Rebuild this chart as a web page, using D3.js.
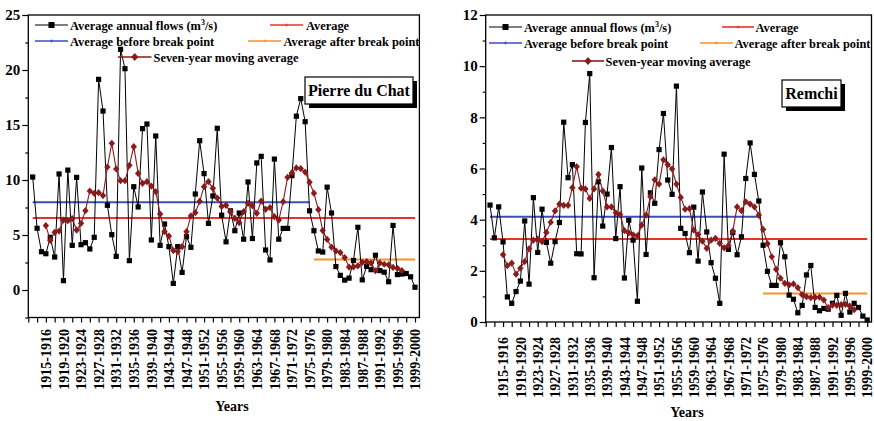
<!DOCTYPE html>
<html>
<head>
<meta charset="utf-8">
<script src="https://cdn.jsdelivr.net/npm/d3@7"></script>
<style>
  body { margin: 0; background: #fff; }
  svg text { font-family: "Liberation Serif", "Times New Roman", serif; font-weight: bold; fill: #000; }
</style>
</head>
<body>
<svg id="chart" width="874" height="421"></svg>
<script>
// Hydrological years 1912-1913 ... 1999-2000
const firstYear = 1912;
const tickLabels = ["1915-1916", "1919-1920", "1923-1924", "1927-1928", "1931-1932", "1935-1936",
  "1939-1940", "1943-1944", "1947-1948", "1951-1952", "1955-1956", "1959-1960", "1963-1964",
  "1967-1968", "1971-1972", "1975-1976", "1979-1980", "1983-1984", "1987-1988", "1991-1992",
  "1995-1996", "1999-2000"];

// Pierre du Chat: average annual flows (m3/s)
const pdcFlows = [10.27, 5.61, 3.48, 3.3, 4.79, 3.0, 10.55, 0.85, 10.9, 4.06,
  10.24, 4.12, 4.3, 3.73, 4.79, 19.15, 16.27, 7.7, 5.03, 3.06,
  21.88, 20.12, 2.67, 9.39, 7.55, 14.67, 15.09, 4.55, 14.0, 4.06,
  6.0, 3.94, 0.6, 3.94, 1.6, 4.85, 3.88, 8.73, 13.57, 10.58,
  6.06, 8.55, 14.7, 6.8, 4.38, 7.2, 5.39, 7.0, 4.62, 9.82,
  4.68, 11.55, 12.15, 3.64, 2.73, 11.9, 4.62, 5.6, 5.6, 10.4,
  15.8, 17.4, 15.3, 7.2, 5.39, 3.55, 3.45, 9.35, 7.0, 2.13,
  1.33, 0.9, 1.08, 2.68, 5.7, 0.92, 2.15, 1.85, 3.16, 1.76,
  1.62, 0.75, 5.87, 1.4, 1.45, 1.5, 1.2, 0.25];
// Pierre du Chat: seven-year moving average, 1915-1916 ... 1996-1997
const pdcMovingAvg = [5.86, 4.51, 5.24, 5.36, 6.36, 6.3, 6.48, 5.45, 6.06, 7.21,
  9.0, 8.79, 8.85, 8.58, 11.18, 13.33, 11.0, 9.94, 9.94, 11.33,
  13.03, 10.6, 9.7, 9.85, 9.45, 8.94, 6.9, 5.3, 4.9, 3.58,
  3.5, 3.94, 5.3, 6.73, 7.03, 8.06, 9.39, 9.85, 9.24, 8.36,
  7.6, 7.7, 7.12, 6.52, 6.12, 7.12, 7.88, 7.67, 6.97, 8.09,
  7.33, 7.5, 6.67, 6.36, 8.03, 10.24, 10.67, 11.1, 11.04, 10.72,
  9.8, 8.8, 7.3, 5.4, 4.6, 3.9, 3.55, 3.4, 2.95, 2.08,
  2.1, 2.2, 2.52, 2.58, 2.46, 1.75, 2.46, 2.34, 2.29, 2.05,
  1.97, 1.77];
// Pierre du Chat: [overall mean, mean before break, mean after break]
const pdcLevels = [6.55, 7.97, 2.77];
const pdcBreak = [1975, 1976];

// Remchi: average annual flows (m3/s)
const remchiFlows = [4.57, 3.29, 4.5, 3.13, 0.98, 0.73, 1.19, 1.6, 3.95, 1.48,
  4.86, 2.72, 4.41, 3.11, 2.3, 3.14, 3.89, 7.81, 5.64, 6.15,
  2.67, 2.66, 7.8, 9.71, 1.73, 5.48, 3.75, 5.0, 6.82, 3.26,
  5.29, 1.72, 3.98, 3.2, 0.81, 6.02, 2.64, 5.05, 4.64, 6.74,
  8.15, 5.55, 4.99, 9.22, 3.66, 3.46, 2.71, 4.49, 2.38, 5.08,
  3.52, 2.32, 1.71, 0.73, 6.56, 2.84, 3.5, 2.63, 3.33, 5.61,
  7.0, 5.77, 4.73, 3.0, 1.98, 1.43, 1.43, 3.1, 2.55, 1.05,
  0.89, 0.36, 0.65, 1.84, 2.21, 0.57, 0.44, 0.53, 0.5, 0.73,
  1.04, 0.26, 1.12, 0.39, 0.73, 0.57, 0.23, 0.08];
// Remchi: seven-year moving average, 1915-1916 ... 1996-1997
const remchiMovingAvg = [2.63, 2.2, 2.3, 1.87, 2.1, 2.36, 2.86, 3.2, 3.24, 3.14,
  3.5, 3.9, 4.34, 4.61, 4.56, 4.56, 5.25, 6.07, 5.23, 5.2,
  4.83, 5.2, 5.77, 5.12, 4.5, 4.5, 4.27, 4.2, 3.57, 3.48,
  3.41, 3.37, 3.79, 4.18, 4.9, 5.56, 5.39, 6.34, 6.15, 5.98,
  5.39, 4.87, 4.41, 4.43, 3.59, 3.42, 3.16, 2.88, 3.2, 3.27,
  3.07, 2.9, 2.99, 3.55, 4.5, 4.35, 4.7, 4.61, 4.5, 4.18,
  3.62, 3.06, 2.55, 2.06, 1.71, 1.51, 1.45, 1.49, 1.34, 1.07,
  0.99, 0.95, 0.96, 0.97, 0.86, 0.56, 0.66, 0.65, 0.68, 0.69,
  0.62, 0.48];
const remchiLevels = [3.24, 4.11, 1.11];
const remchiBreak = [1974, 1975];

const seriesNames = ["Average annual flows (m", "Average", "Average before break point",
  "Average after break point", "Seven-year moving average"];

const COLORS = { flow: "#000000", mean: "#e8332b", before: "#3a4cc0", after: "#f5922a", ma: "#8b1a1a" };

const svg = d3.select("#chart");

const panels = [
  {
    name: "Pierre du Chat", flows: pdcFlows, ma: pdcMovingAvg, levels: pdcLevels, brk: pdcBreak,
    xRange: [28.3, 419.4], yDomain: [-2.5, 25], yRange: [317.5, 15], major: 5, minor: 2.5,
    labelOffset: 11.5, title: [232, 411],
    box: { x: 305, y: 77, w: 108, h: 27 },
    legend: {
      flow: [35, 68, 25, 70], mean: [270, 303, 25, 306],
      before: [35, 68, 41, 70], after: [248, 281.5, 41, 283.5],
      ma: [118, 151.5, 57, 153.5]
    }
  },
  {
    name: "Remchi", flows: remchiFlows, ma: remchiMovingAvg, levels: remchiLevels, brk: remchiBreak,
    xRange: [485.7, 871.5], yDomain: [0, 12], yRange: [322, 15], major: 2, minor: 1,
    labelOffset: 15, title: [687, 417],
    box: { x: 782, y: 80, w: 59, h: 27 },
    legend: {
      flow: [489, 522, 27, 524], mean: [722, 754, 27, 755.5],
      before: [489, 522, 43, 524], after: [700, 733, 43, 734.5],
      ma: [572, 604, 61, 605.5]
    }
  }
];

const lastYear = firstYear + pdcFlows.length - 1;
const oddYears = d3.range(firstYear - 1, lastYear + 1, 2);
const labelYears = tickLabels.map(t => +t.slice(0, 4));

function diamond(hw, hh) {
  return `M0,${-hh}L${hw},0L0,${hh}L${-hw},0Z`;
}

panels.forEach(p => {
  const x = d3.scaleLinear().domain([firstYear - 1, lastYear + 1]).range(p.xRange);
  const y = d3.scaleLinear().domain(p.yDomain).range(p.yRange);
  const g = svg.append("g");
  const [x0, x1] = p.xRange;
  const [yb, yt] = p.yRange;

  // frame
  g.append("rect").attr("x", x0).attr("y", yt).attr("width", x1 - x0).attr("height", yb - yt)
    .attr("fill", "none").attr("stroke", "#000").attr("stroke-width", 1.3);

  // y axis: minor then major ticks
  const minorVals = d3.range(p.yDomain[0], p.yDomain[1] + 0.001, p.minor)
    .filter(v => Math.abs(v / p.major - Math.round(v / p.major)) > 1e-6);
  const majorVals = d3.range(Math.ceil(p.yDomain[0] / p.major) * p.major, p.yDomain[1] + 0.001, p.major);
  const yMinor = g.append("g").attr("transform", `translate(${x0},0)`)
    .call(d3.axisLeft(y).tickValues(minorVals).tickSize(3).tickFormat(""));
  const yMajor = g.append("g").attr("transform", `translate(${x0},0)`)
    .call(d3.axisLeft(y).tickValues(majorVals).tickSize(6).tickPadding(2).tickFormat(d3.format("d")));
  [yMinor, yMajor].forEach(a => { a.select(".domain").remove(); a.selectAll("line").attr("stroke", "#000").attr("stroke-width", 1.2); });
  yMajor.selectAll("text").style("font-size", "15px").attr("font-family", null);

  // x axis: ticks every two years, rotated labels every four
  const xTicks = g.append("g").attr("transform", `translate(0,${yb})`)
    .call(d3.axisBottom(x).tickValues(oddYears).tickSize(5).tickFormat(""));
  xTicks.select(".domain").remove();
  xTicks.selectAll("line").attr("stroke", "#000").attr("stroke-width", 1.2);
  const xLabels = g.append("g").attr("transform", `translate(0,${yb})`)
    .call(d3.axisBottom(x).tickValues(labelYears).tickSize(0).tickFormat((d, i) => tickLabels[i]));
  xLabels.select(".domain").remove();
  xLabels.selectAll("text")
    .attr("transform", "rotate(-90)").attr("text-anchor", "end")
    .attr("x", -p.labelOffset).attr("y", 0).attr("dy", "0.34em")
    .style("font-size", "14px");

  g.append("text").attr("x", p.title[0]).attr("y", p.title[1]).attr("text-anchor", "middle")
    .style("font-size", "14px").text("Years");

  // reference levels
  const levelLine = (v, a, b, color) => g.append("line")
    .attr("x1", x(a)).attr("x2", x(b)).attr("y1", y(v)).attr("y2", y(v))
    .attr("stroke", color).attr("stroke-width", 2);
  levelLine(p.levels[0], firstYear, lastYear, COLORS.mean);
  levelLine(p.levels[1], firstYear, p.brk[0], COLORS.before);
  levelLine(p.levels[2], p.brk[1], lastYear, COLORS.after);

  // annual flows
  const flowPts = p.flows.map((v, i) => [firstYear + i, v]);
  g.append("path").datum(flowPts)
    .attr("d", d3.line().x(d => x(d[0])).y(d => y(d[1])))
    .attr("fill", "none").attr("stroke", COLORS.flow).attr("stroke-width", 1);
  g.selectAll(".sq").data(flowPts).join("rect")
    .attr("x", d => x(d[0]) - 2.6).attr("y", d => y(d[1]) - 2.6)
    .attr("width", 5.2).attr("height", 5.2).attr("fill", COLORS.flow);

  // seven-year moving average
  const maPts = p.ma.map((v, i) => [firstYear + 3 + i, v]);
  g.append("path").datum(maPts)
    .attr("d", d3.line().x(d => x(d[0])).y(d => y(d[1])))
    .attr("fill", "none").attr("stroke", COLORS.ma).attr("stroke-width", 1.1);
  g.selectAll(".dm").data(maPts).join("path")
    .attr("transform", d => `translate(${x(d[0])},${y(d[1])})`)
    .attr("d", diamond(3.2, 3.6)).attr("fill", COLORS.ma);

  // legend
  const L = p.legend;
  const legendLine = (spec, color, label, marker) => {
    const [a, b, cy, tx] = spec;
    g.append("line").attr("x1", a).attr("x2", b).attr("y1", cy).attr("y2", cy)
      .attr("stroke", color).attr("stroke-width", color === COLORS.flow ? 1.2 : 1.6);
    const mx = (a + b) / 2;
    if (marker === "square") {
      g.append("rect").attr("x", mx - 3).attr("y", cy - 3).attr("width", 6).attr("height", 6).attr("fill", color);
    } else if (marker === "diamond") {
      g.append("path").attr("transform", `translate(${mx},${cy})`).attr("d", diamond(3.6, 4)).attr("fill", color);
    } else {
      g.append("path").attr("d", `M${mx - 1.5},${cy}h3M${mx},${cy - 1.5}v3`).attr("stroke", color).attr("stroke-width", 0.8);
    }
    const t = g.append("text").attr("x", tx).attr("y", cy + 4.5).style("font-size", "12.4px");
    if (label === seriesNames[0]) {
      t.append("tspan").text(label);
      t.append("tspan").attr("dy", -5).style("font-size", "8px").text("3");
      t.append("tspan").attr("dy", 5).text("/s)");
    } else {
      t.text(label);
    }
  };
  legendLine(L.flow, COLORS.flow, seriesNames[0], "square");
  legendLine(L.mean, COLORS.mean, seriesNames[1], "plus");
  legendLine(L.before, COLORS.before, seriesNames[2], "plus");
  legendLine(L.after, COLORS.after, seriesNames[3], "plus");
  legendLine(L.ma, COLORS.ma, seriesNames[4], "diamond");

  // station name box with drop shadow
  const bx = p.box;
  g.append("rect").attr("x", bx.x + 4).attr("y", bx.y + 4).attr("width", bx.w).attr("height", bx.h).attr("fill", "#000");
  g.append("rect").attr("x", bx.x).attr("y", bx.y).attr("width", bx.w).attr("height", bx.h)
    .attr("fill", "#fff").attr("stroke", "#000").attr("stroke-width", 1.2);
  g.append("text").attr("x", bx.x + bx.w / 2).attr("y", bx.y + bx.h / 2 + 5.5)
    .attr("text-anchor", "middle").style("font-size", "16px").text(p.name);
});
</script>
</body>
</html>
